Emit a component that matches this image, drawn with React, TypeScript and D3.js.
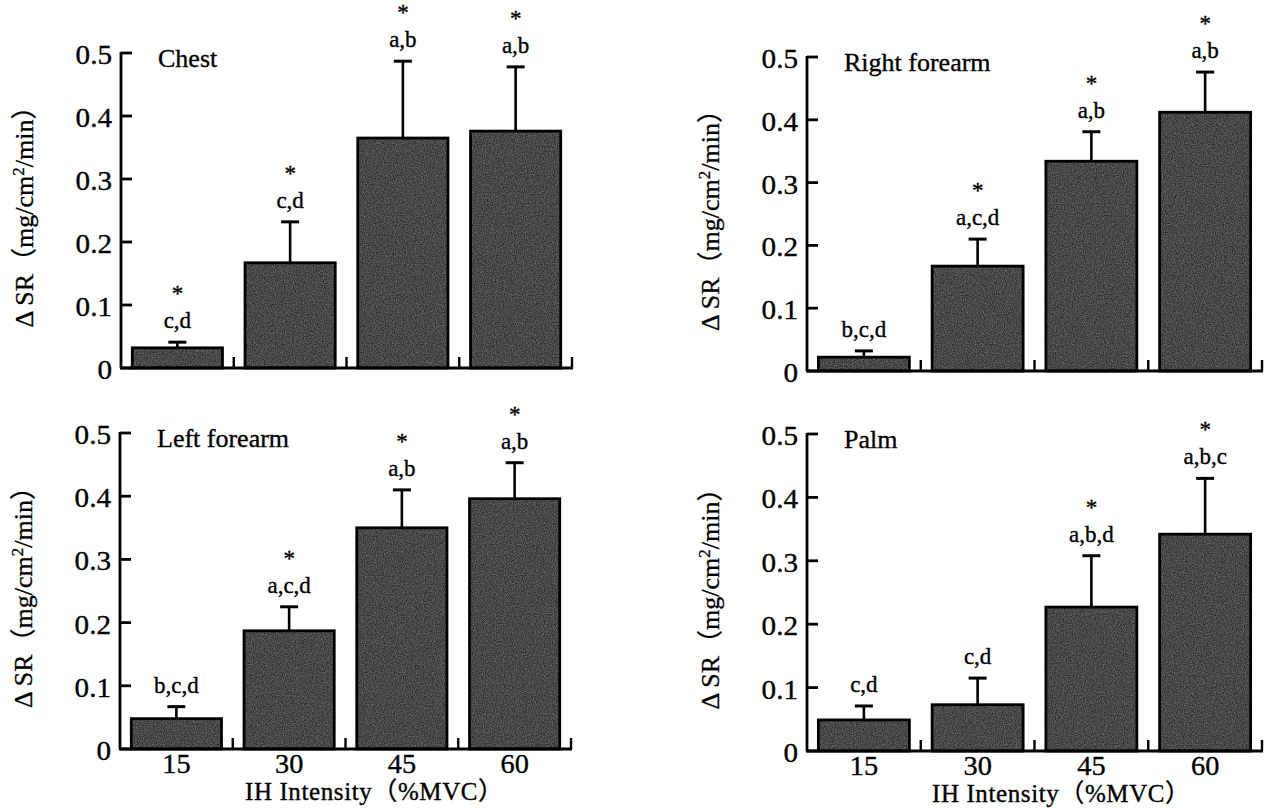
import React from 'react'
import * as d3 from 'd3'

const intensities = ['15', '30', '45', '60']
const yTicks = [0, 0.1, 0.2, 0.3, 0.4, 0.5]

const chestMean = [0.032, 0.167, 0.365, 0.376]
const chestSd = [0.009, 0.065, 0.122, 0.102]
const chestSig = ['c,d', 'c,d', 'a,b', 'a,b']
const chestStar = [true, true, true, true]

const rightMean = [0.022, 0.167, 0.334, 0.412]
const rightSd = [0.01, 0.043, 0.047, 0.064]
const rightSig = ['b,c,d', 'a,c,d', 'a,b', 'a,b']
const rightStar = [false, true, true, true]

const leftMean = [0.048, 0.187, 0.35, 0.396]
const leftSd = [0.019, 0.038, 0.06, 0.057]
const leftSig = ['b,c,d', 'a,c,d', 'a,b', 'a,b']
const leftStar = [false, true, true, true]

const palmMean = [0.049, 0.073, 0.227, 0.342]
const palmSd = [0.022, 0.042, 0.081, 0.088]
const palmSig = ['c,d', 'c,d', 'a,b,d', 'a,b,c']
const palmStar = [false, false, true, true]

const FONT = '"Liberation Serif", "Times New Roman", "Noto Sans CJK JP", serif'

function T({ x, y, size, anchor = 'middle', sx = 1, spacing = 0, children }) {
  return (
    <text
      transform={`translate(${x},${y}) scale(${sx},1)`}
      fontSize={size}
      textAnchor={anchor}
      letterSpacing={spacing}
      fill="#000"
      stroke="#000"
      strokeWidth={0.35}
    >
      {children}
    </text>
  )
}

function Panel({ title, mean, sd, sig, star, left, right, y0, y5, showX }) {
  const x = d3
    .scaleBand()
    .domain(intensities)
    .range([left, right])
    .paddingInner(0.2)
    .paddingOuter(0.1)
  const y = d3.scaleLinear().domain([0, 0.5]).range([y0, y5])
  const step = x.step()
  const bw = x.bandwidth()
  const fmt = (d) => (d === 0 ? '0' : d3.format('.1f')(d))

  return (
    <g>
      {/* bars */}
      {intensities.map((c, i) => (
        <g key={c}>
          <line
            x1={x(c) + bw / 2}
            x2={x(c) + bw / 2}
            y1={y(mean[i])}
            y2={y(mean[i] + sd[i])}
            stroke="#000"
            strokeWidth={2.6}
          />
          <line
            x1={x(c) + bw / 2 - 9}
            x2={x(c) + bw / 2 + 9}
            y1={y(mean[i] + sd[i])}
            y2={y(mean[i] + sd[i])}
            stroke="#000"
            strokeWidth={3}
          />
          <rect
            x={x(c)}
            y={y(mean[i])}
            width={bw}
            height={y0 - y(mean[i])}
            fill="#3c3c3c"
            filter="url(#grain)"
          />
          <rect
            x={x(c)}
            y={y(mean[i])}
            width={bw}
            height={y0 - y(mean[i])}
            fill="none"
            stroke="#000"
            strokeWidth={2.8}
          />
          <T x={x(c) + bw / 2} y={y(mean[i] + sd[i]) - 14} size={23}>
            {sig[i]}
          </T>
          {star[i] && (
            <T x={x(c) + bw / 2} y={y(mean[i] + sd[i]) - 41} size={23}>
              *
            </T>
          )}
        </g>
      ))}

      {/* y axis */}
      <line x1={left} x2={left} y1={y5 - 1} y2={y0} stroke="#000" strokeWidth={2.8} />
      {yTicks.map((t) => (
        <g key={t}>
          <line x1={left} x2={left + 11} y1={y(t)} y2={y(t)} stroke="#000" strokeWidth={2.8} />
          <T x={left - 9} y={y(t) + 11} size={27} sx={1.08} anchor="end">
            {fmt(t)}
          </T>
        </g>
      ))}

      {/* x axis */}
      <line x1={left - 1} x2={right + 1} y1={y0} y2={y0} stroke="#000" strokeWidth={2.8} />
      {intensities.map((c) => (
        <line
          key={c}
          x1={x(c) + bw + (step - bw) / 2}
          x2={x(c) + bw + (step - bw) / 2}
          y1={y0}
          y2={y0 - 11}
          stroke="#000"
          strokeWidth={2.4}
        />
      ))}

      <T x={left + 37} y={y5 + 14} size={26} anchor="start">
        {title}
      </T>

      <text
        transform={`translate(${left - 97},${(y0 + y5) / 2}) rotate(-90)`}
        fontSize={26}
        textAnchor="middle"
        dy="0.35em"
        fill="#000"
        stroke="#000"
        strokeWidth={0.3}
      >
        Δ SR（mg/cm<tspan dy="-9" fontSize={17}>2</tspan>
        <tspan dy="9">/min）</tspan>
      </text>

      {showX && (
        <g>
          {intensities.map((c) => (
            <T key={c} x={x(c) + bw / 2} y={y0 + 24} size={27} sx={1.05}>
              {c}
            </T>
          ))}
          <T x={left + 125} y={y0 + 51} size={25} spacing={0.6} anchor="start">
            IH  Intensity（%MVC）
          </T>
        </g>
      )}
    </g>
  )
}

export default function App() {
  return (
    <svg
      width={1267}
      height={808}
      style={{ position: 'absolute', left: 0, top: 0, background: '#fff' }}
      fontFamily={FONT}
      xmlSpace="preserve"
    >
      <defs>
        <filter
          id="grain"
          x="0"
          y="0"
          width="100%"
          height="100%"
          colorInterpolationFilters="sRGB"
        >
          <feTurbulence type="fractalNoise" baseFrequency="0.9" numOctaves="2" seed="4" result="n" />
          <feColorMatrix
            in="n"
            type="matrix"
            values="0.45 0 0 0 0.06  0.45 0 0 0 0.06  0.45 0 0 0 0.06  0 0 0 0 1"
            result="g"
          />
          <feComposite in="g" in2="SourceGraphic" operator="in" />
        </filter>
      </defs>
      <rect width={1267} height={808} fill="#fff" />
      <Panel title="Chest" mean={chestMean} sd={chestSd} sig={chestSig} star={chestStar}
        left={121} right={572} y0={368} y5={53} showX={false} />
      <Panel title="Right  forearm" mean={rightMean} sd={rightSd} sig={rightSig} star={rightStar}
        left={807} right={1262} y0={371} y5={57} showX={false} />
      <Panel title="Left  forearm" mean={leftMean} sd={leftSd} sig={leftSig} star={leftStar}
        left={120} right={571} y0={749} y5={433} showX={true} />
      <Panel title="Palm" mean={palmMean} sd={palmSd} sig={palmSig} star={palmStar}
        left={807} right={1262} y0={751} y5={434} showX={true} />
    </svg>
  )
}
